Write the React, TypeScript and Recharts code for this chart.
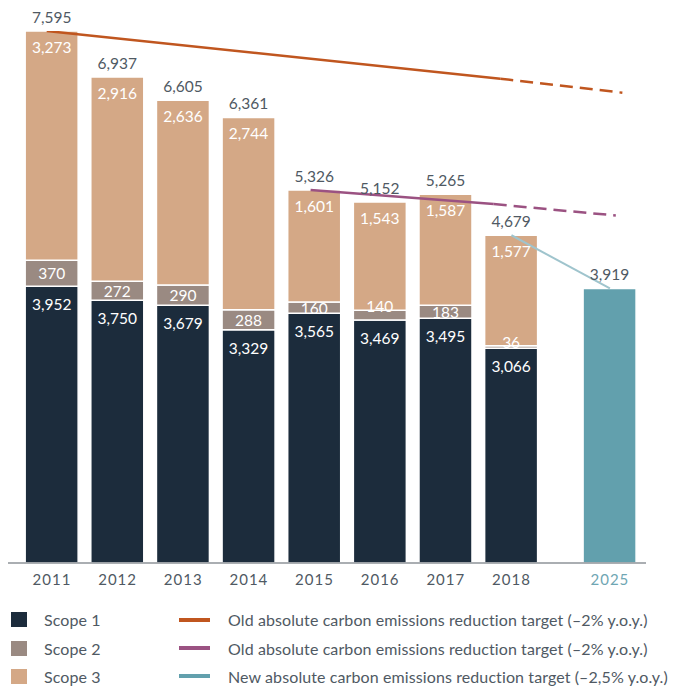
import { ComposedChart, Bar, Line, XAxis, YAxis, LabelList } from "recharts";

const years = ["2011", "2012", "2013", "2014", "2015", "2016", "2017", "2018", "2025"];
const xPos = [0, 1, 2, 3, 4, 5, 6, 7, 8.5];
const scope1 = [3952, 3750, 3679, 3329, 3565, 3469, 3495, 3066, null];
const scope2 = [370, 272, 290, 288, 160, 140, 183, 36, null];
const scope3 = [3273, 2916, 2636, 2744, 1601, 1543, 1587, 1577, null];
const totals = [7595, 6937, 6605, 6361, 5326, 5152, 5265, 4679, 3919];
const target2025 = [null, null, null, null, null, null, null, null, 3919];

// target lines (x in axis units, v in tonnes)
const orangeSolid = [{ x: -0.08, v: 7595 }, { x: 6.83, v: 6914 }];
const orangeDash = [{ x: 6.83, v: 6914 }, { x: 8.69, v: 6714 }];
const purpleSolid = [{ x: 3.94, v: 5326 }, { x: 6.73, v: 5124 }];
const purpleDash = [{ x: 6.73, v: 5124 }, { x: 8.59, v: 4961 }];
const tealLine = [{ x: 7, v: 4679 }, { x: 8.5, v: 3919 }];

const C1 = "#1c2c3c";
const C2 = "#9a8a82";
const C3 = "#d4a886";
const TEAL = "#62a0ad";
const ORANGE = "#c0561f";
const PURPLE = "#9b5282";
const TEXT = "#4f5963";
const FONT = "Lato, 'Noto Sans', sans-serif";
const DOMAIN: [number, number] = [-0.67, 9.05];

const data = years.map((y, i) => ({
  year: y,
  x: xPos[i],
  s1: scope1[i],
  s2: scope2[i],
  s3: scope3[i],
  total: totals[i],
  target: target2025[i],
}));

const fmt = (v: number) => v.toLocaleString("en-US");

const InsideTop = (off: number) => (p: any) => {
  if (p.value == null) return null;
  return (
    <text x={p.x + p.width / 2} y={p.y + off} textAnchor="middle" dominantBaseline="central"
      fill="#fff" fontSize={15.5} fontFamily={FONT}>
      {fmt(p.value)}
    </text>
  );
};

const MidLabel = (p: any) => {
  if (p.value == null) return null;
  const cy = p.height < 10 ? p.y - 4 : p.y + p.height / 2;
  return (
    <text x={p.x + p.width / 2} y={cy} textAnchor="middle" dominantBaseline="central"
      fill="#fff" fontSize={15.5} fontFamily={FONT}>
      {fmt(p.value)}
    </text>
  );
};

const TopLabel = (p: any) => {
  if (p.value == null) return null;
  return (
    <text x={p.x + p.width / 2} y={p.y - 14} textAnchor="middle" dominantBaseline="central"
      fill={TEXT} fontSize={15.5} fontFamily={FONT}>
      {fmt(p.value)}
    </text>
  );
};

const YearTick = (p: any) => {
  const idx = xPos.indexOf(p.payload.value);
  const label = years[idx] ?? "";
  return (
    <text x={p.x} y={p.y + 8} textAnchor="middle" dominantBaseline="central" letterSpacing={1}
      fill={label === "2025" ? "#6fa6b3" : TEXT} fontSize={15} fontFamily={FONT}>
      {label}
    </text>
  );
};

const legendLeft = [
  { name: "Scope 1", color: C1 },
  { name: "Scope 2", color: C2 },
  { name: "Scope 3", color: C3 },
];
const legendRight = [
  { name: "Old absolute carbon emissions reduction target (–2% y.o.y.)", color: ORANGE },
  { name: "Old absolute carbon emissions reduction target (–2% y.o.y.)", color: PURPLE },
  { name: "New absolute carbon emissions reduction target (–2,5% y.o.y.)", color: TEAL },
];
const rowY = [611.5, 640, 668];

export default function App() {
  return (
    <div style={{ position: "relative", width: 668, height: 679, fontFamily: FONT }}>
      <ComposedChart width={668} height={590} data={data}
        margin={{ top: 23, right: 30, bottom: 0, left: 0 }}>
        <XAxis xAxisId="bar" type="number" dataKey="x" domain={DOMAIN} ticks={xPos}
          allowDataOverflow tick={<YearTick />} tickLine={false} height={35}
          axisLine={{ stroke: "#8e9398", strokeWidth: 1.5 }} interval={0} />
        <XAxis xAxisId="line" type="number" dataKey="x" domain={DOMAIN} allowDataOverflow hide />
        <YAxis hide domain={[0, 7595]} allowDataOverflow />
        <Bar xAxisId="bar" dataKey="s1" stackId="a" fill={C1} stroke="#fff" strokeWidth={1.5} barSize={53} isAnimationActive={false}>
          <LabelList dataKey="s1" content={InsideTop(18)} />
        </Bar>
        <Bar xAxisId="bar" dataKey="s2" stackId="a" fill={C2} stroke="#fff" strokeWidth={1.5} barSize={53} isAnimationActive={false}>
          <LabelList dataKey="s2" content={MidLabel} />
        </Bar>
        <Bar xAxisId="bar" dataKey="s3" stackId="a" fill={C3} stroke="#fff" strokeWidth={1.5} barSize={53} isAnimationActive={false}>
          <LabelList dataKey="s3" content={InsideTop(16)} />
          <LabelList dataKey="total" content={TopLabel} />
        </Bar>
        <Bar xAxisId="bar" dataKey="target" stackId="a" fill={TEAL} stroke="#fff" strokeWidth={1.5} barSize={53} isAnimationActive={false}>
          <LabelList dataKey="target" content={TopLabel} />
        </Bar>
        <Line xAxisId="line" data={orangeSolid} dataKey="v" stroke={ORANGE} strokeWidth={2.5} dot={false} isAnimationActive={false} />
        <Line xAxisId="line" data={orangeDash} dataKey="v" stroke={ORANGE} strokeWidth={2.5} strokeDasharray="13 7" dot={false} isAnimationActive={false} />
        <Line xAxisId="line" data={purpleSolid} dataKey="v" stroke={PURPLE} strokeWidth={2.5} dot={false} isAnimationActive={false} />
        <Line xAxisId="line" data={purpleDash} dataKey="v" stroke={PURPLE} strokeWidth={2.5} strokeDasharray="13 7" dot={false} isAnimationActive={false} />
        <Line xAxisId="line" data={tealLine} dataKey="v" stroke="#9fc4cd" strokeWidth={2} dot={false} isAnimationActive={false} />
      </ComposedChart>
      {legendLeft.map((l, i) => (
        <div key={l.name} style={{ position: "absolute", left: 3, top: rowY[i] - 8, display: "flex", alignItems: "center", height: 16 }}>
          <div style={{ width: 16, height: 15, background: l.color }} />
          <span style={{ marginLeft: 17, fontSize: 16, color: TEXT, whiteSpace: "nowrap", letterSpacing: 0.1 }}>{l.name}</span>
        </div>
      ))}
      {legendRight.map((l, i) => (
        <div key={i} style={{ position: "absolute", left: 171, top: rowY[i] - 8, display: "flex", alignItems: "center", height: 16 }}>
          <div style={{ width: 31, height: 4, background: l.color }} />
          <span style={{ marginLeft: 18, fontSize: 16, color: TEXT, whiteSpace: "nowrap", letterSpacing: 0.1 }}>{l.name}</span>
        </div>
      ))}
    </div>
  );
}
